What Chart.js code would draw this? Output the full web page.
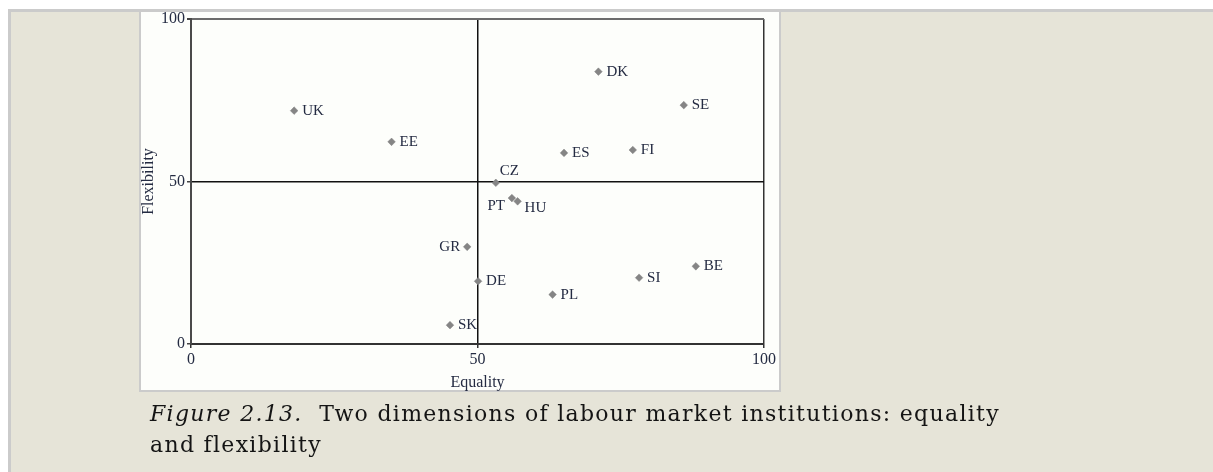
<!DOCTYPE html>
<html><head><meta charset="utf-8">
<script src="https://cdn.jsdelivr.net/npm/chart.js@4.4.0/dist/chart.umd.min.js"></script>
<style>
html,body{margin:0;padding:0;background:#fff;width:1213px;height:472px;overflow:hidden;}
#panel{position:absolute;left:8px;top:9px;width:1220px;height:480px;background:#e6e4d8;border-left:3px solid #cbcbcb;border-top:3px solid #cbcbcb;}
#box{position:absolute;left:139px;top:12px;width:638px;height:378px;background:#fdfefb;border:2px solid #cbcbcb;border-top:none;}
#wrap{position:absolute;left:0;top:0;width:1213px;height:472px;}
#caption{position:absolute;left:150px;top:398px;font-family:"DejaVu Serif";font-size:22px;line-height:31px;letter-spacing:1.3px;color:#141414;white-space:nowrap;}
#caption i{font-style:italic;}
</style></head>
<body>
<div id="panel"></div>
<div id="box"></div>
<div id="wrap"><canvas id="c" width="1213" height="472"></canvas></div>
<div id="caption"><i>Figure 2.13.</i>&nbsp; Two dimensions of labour market institutions: equality<br>and flexibility</div>
<script>
const countries   = ['UK','EE','DK','SE','FI','ES','CZ','PT','HU','GR','DE','SK','PL','SI','BE'];
const equality    = [18.0,35.0,71.1,86.0,77.1,65.1,53.2,56.0,57.0,48.2,50.1,45.2,63.1,78.2,88.1];
const flexibility = [71.8,62.2,83.8,73.5,59.7,58.8,49.6,44.9,43.9,29.9,19.3,5.8,15.2,20.4,23.9];
const xTicks = [0,50,100];
const yTicks = [0,50,100];
const xTitle = 'Equality';
const yTitle = 'Flexibility';

const labelPlacement = {CZ:'above', PT:'leftBelow', HU:'rightBelow', GR:'left'};
const textColor = '#242b42';
const serif = '"Liberation Serif", "Times New Roman", serif';

const pointLabels = {
  id:'pointLabels',
  afterDatasetsDraw(chart){
    const ctx = chart.ctx;
    const meta = chart.getDatasetMeta(0);
    ctx.save();
    ctx.font = '15px ' + serif;
    ctx.fillStyle = textColor;
    ctx.textBaseline = 'middle';
    meta.data.forEach((pt,i)=>{
      const name = countries[i];
      const p = labelPlacement[name] || 'right';
      let x = pt.x, y = pt.y, align = 'left';
      if (p==='right'){x+=8;}
      else if (p==='above'){x+=4;y-=12;}
      else if (p==='leftBelow'){x-=7;y+=8;align='right';}
      else if (p==='rightBelow'){x+=7;y+=7;}
      else if (p==='left'){x-=7;align='right';}
      ctx.textAlign = align;
      ctx.fillText(name,x,y);
    });
    ctx.restore();
  }
};

const data = {datasets:[{
  data: equality.map((v,i)=>({x:v,y:flexibility[i]})),
  pointStyle:'rectRot', pointRadius:3.8, pointHoverRadius:3.8,
  backgroundColor:'#858585', borderColor:'#858585', borderWidth:0.5,
  showLine:false
}]};

new Chart(document.getElementById('c'),{
  type:'scatter',
  data,
  plugins:[pointLabels],
  options:{
    responsive:false, animation:false,
    layout:{padding:{left:141,top:19,right:449,bottom:78}},
    plugins:{legend:{display:false},tooltip:{enabled:false}},
    scales:{
      x:{
        type:'linear', min:0, max:100,
        afterBuildTicks:s=>{s.ticks = xTicks.map(v=>({value:v}));},
        afterFit:s=>{s.height=50;},
        ticks:{font:{family:serif,size:16},color:textColor,padding:2},
        grid:{color:c=>c.tick && c.tick.value===50 ? '#111' : '#333', lineWidth:1.5, tickLength:4, tickColor:'#333'},
        border:{color:'#333',width:2},
        title:{display:true,text:xTitle,font:{family:serif,size:16,lineHeight:1},color:textColor,padding:{top:0,bottom:3}}
      },
      y:{
        type:'linear', min:0, max:100,
        afterBuildTicks:s=>{s.ticks = yTicks.map(v=>({value:v}));},
        afterFit:s=>{s.width=50;},
        ticks:{font:{family:serif,size:16},color:textColor,padding:2},
        grid:{color:c=>c.tick && c.tick.value===100 ? '#6b6b6b' : (c.tick && c.tick.value===50 ? '#111' : '#444'),
              lineWidth:c=>c.tick && c.tick.value===100 ? 2 : 1.5, tickLength:4, tickColor:'#444'},
        border:{color:'#4a4a4a',width:2},
        title:{display:true,text:yTitle,font:{family:serif,size:16,lineHeight:1},color:textColor,padding:{top:0,bottom:0}}
      }
    }
  }
});
</script>
</body></html>
